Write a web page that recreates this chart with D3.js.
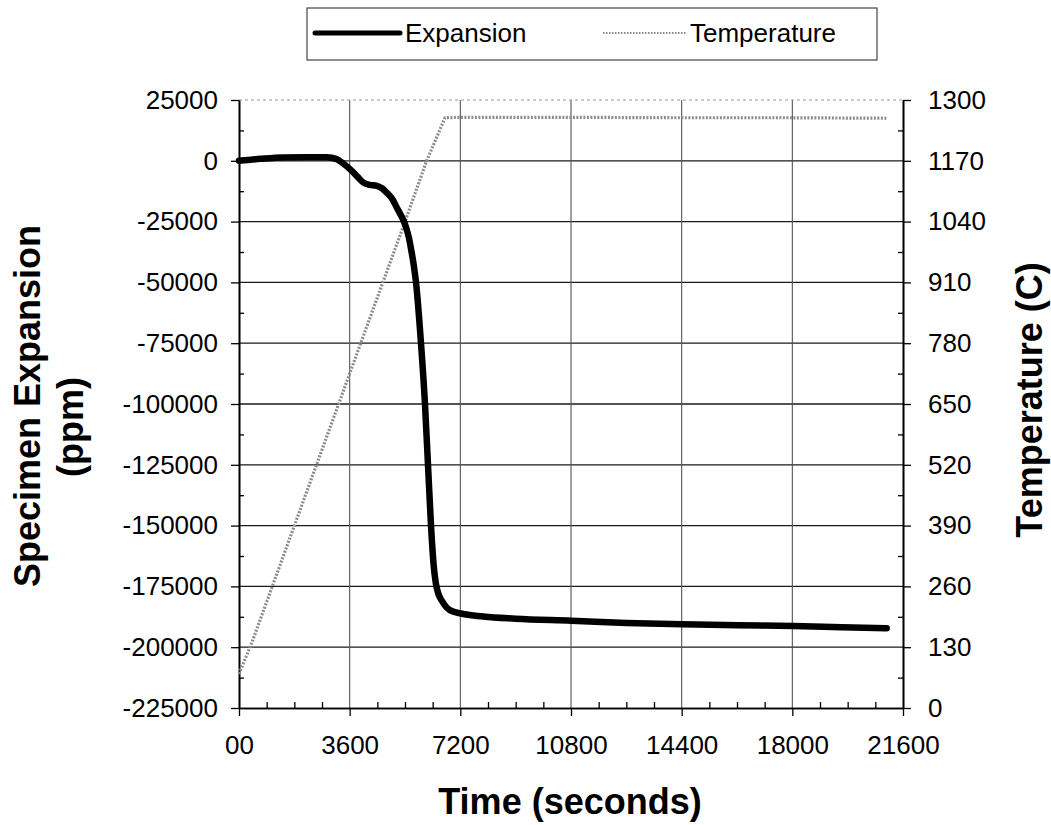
<!DOCTYPE html>
<html>
<head>
<meta charset="utf-8">
<script src="https://cdn.jsdelivr.net/npm/d3@7"></script>
<style>
  html, body { margin: 0; padding: 0; background: #fff; }
  svg { display: block; }
  text { font-family: "Liberation Sans", Arial, sans-serif; fill: #000; }
</style>
</head>
<body>
<svg id="chart" width="1051" height="825"></svg>
<script>
// ---- data ----
const expTime  = [0, 700, 1430, 2200, 2850, 3180, 3400, 3610, 3850, 4040, 4250, 4480, 4650, 4800, 5000, 5130, 5250, 5350, 5450, 5530, 5600, 5680, 5758, 5920, 6050, 6148, 6246, 6330, 6400, 6480, 6594, 6750, 6970, 7950, 9000, 10820, 12600, 14420, 16200, 18030, 19600, 21070];
const expValue = [0, 800, 1400, 1500, 1500, 700, -1200, -3400, -6500, -8900, -9900, -10300, -11300, -13000, -16000, -19200, -22000, -24500, -28000, -31800, -36500, -42500, -50000, -75000, -100000, -125000, -150000, -166000, -173500, -177800, -180800, -183600, -185400, -187400, -188300, -189100, -190000, -190600, -191000, -191300, -191800, -192200];
const tempTime  = [0, 420, 3600, 5400, 6105, 6700, 7200, 10800, 14400, 18000, 21070];
const tempValue = [73, 140, 715, 1040, 1170, 1262, 1263, 1263, 1262, 1262, 1261];

const xTicks = [0, 3600, 7200, 10800, 14400, 18000, 21600];
const xTickLabels = ["00", "3600", "7200", "10800", "14400", "18000", "21600"];
const yLeftTicks = [25000, 0, -25000, -50000, -75000, -100000, -125000, -150000, -175000, -200000, -225000];
const yRightTicks = [0, 130, 260, 390, 520, 650, 780, 910, 1040, 1170, 1300];

const seriesNames = ["Expansion", "Temperature"];
const xTitle = "Time (seconds)";
const yLeftTitle = ["Specimen Expansion", "(ppm)"];
const yRightTitle = "Temperature (C)";

// ---- layout ----
const L = 239, R = 903, T = 100, B = 708;
const svg = d3.select("#chart");

const x = d3.scaleLinear().domain([0, 21600]).range([L, R]);
const yL = d3.scaleLinear().domain([-225000, 25000]).range([B, T]);
const yR = d3.scaleLinear().domain([0, 1300]).range([B, T]);

// gridlines
const grid = svg.append("g");
grid.selectAll("line.h").data(yLeftTicks.filter(v => v !== 25000 && v !== -225000)).join("line")
  .attr("x1", L).attr("x2", R).attr("y1", d => yL(d)).attr("y2", d => yL(d))
  .attr("stroke", "#1a1a1a").attr("stroke-width", 1.3);
grid.selectAll("line.v").data(xTicks.filter(v => v !== 0 && v !== 21600)).join("line")
  .attr("x1", d => x(d)).attr("x2", d => x(d)).attr("y1", T).attr("y2", B)
  .attr("stroke", "#555").attr("stroke-width", 1.1);
// top border (dotted)
grid.append("line").attr("x1", L).attr("x2", R).attr("y1", T).attr("y2", T)
  .attr("stroke", "#999").attr("stroke-width", 1.2).attr("stroke-dasharray", "3,3");

// axes
function styleAxis(g) {
  g.select(".domain").attr("stroke", "#000").attr("stroke-width", 1.6);
  g.selectAll(".tick line").attr("stroke", "#000").attr("stroke-width", 1.3);
  g.selectAll(".tick text").style("font-size", "26px").attr("fill", "#000");
}
const minorLeft = d3.range(-212500, 25000, 25000);
const minorRight = d3.range(65, 1300, 130);
const minorX = d3.range(0, 21601, 900).filter(v => v % 3600 !== 0);
const plain = d => String(d);

svg.append("g").attr("transform", `translate(${L},0)`)
  .call(d3.axisLeft(yL).tickValues(yLeftTicks).tickSize(8).tickSizeOuter(0).tickPadding(13).tickFormat(plain))
  .call(styleAxis);
svg.append("g").attr("transform", `translate(${L},0)`)
  .call(d3.axisLeft(yL).tickValues(minorLeft).tickSize(-5).tickSizeOuter(0).tickFormat(""))
  .call(styleAxis);

svg.append("g").attr("transform", `translate(${R},0)`)
  .call(d3.axisRight(yR).tickValues(yRightTicks).tickSize(8).tickSizeOuter(0).tickPadding(17).tickFormat(plain))
  .call(styleAxis);
svg.append("g").attr("transform", `translate(${R},0)`)
  .call(d3.axisRight(yR).tickValues(minorRight).tickSize(-5).tickSizeOuter(0).tickFormat(""))
  .call(styleAxis);

svg.append("g").attr("transform", `translate(0,${B})`)
  .call(d3.axisBottom(x).tickValues(xTicks).tickSize(8).tickSizeOuter(0).tickPadding(20)
    .tickFormat((d, i) => xTickLabels[i]))
  .call(styleAxis);
svg.append("g").attr("transform", `translate(0,${B})`)
  .call(d3.axisBottom(x).tickValues(minorX).tickSize(-6).tickSizeOuter(0).tickFormat(""))
  .call(styleAxis);

// series
const expData = expTime.map((t, i) => [t, expValue[i]]);
const tempData = tempTime.map((t, i) => [t, tempValue[i]]);

svg.append("path").datum(tempData)
  .attr("fill", "none").attr("stroke", "#8c8c8c").attr("stroke-width", 3.2)
  .attr("stroke-dasharray", "2,1.5")
  .attr("d", d3.line().x(d => x(d[0])).y(d => yR(d[1])));

svg.append("path").datum(expData)
  .attr("fill", "none").attr("stroke", "#000").attr("stroke-width", 6.5)
  .attr("stroke-linejoin", "round").attr("stroke-linecap", "round")
  .attr("d", d3.line().curve(d3.curveMonotoneX).x(d => x(d[0])).y(d => yL(d[1])));

// titles
svg.append("text").attr("x", 570).attr("y", 814).attr("text-anchor", "middle")
  .style("font-size", "36px").style("font-weight", "bold").text(xTitle);

svg.append("text").attr("transform", `translate(40,406) rotate(-90)`).attr("text-anchor", "middle")
  .style("font-size", "36px").style("font-weight", "bold").text(yLeftTitle[0]);
svg.append("text").attr("transform", `translate(83,427) rotate(-90)`).attr("text-anchor", "middle")
  .style("font-size", "36px").style("font-weight", "bold").text(yLeftTitle[1]);

svg.append("text").attr("transform", `translate(1042,400) rotate(-90)`).attr("text-anchor", "middle")
  .style("font-size", "36px").style("font-weight", "bold").text(yRightTitle);

// legend
const lg = svg.append("g");
lg.append("rect").attr("x", 307).attr("y", 8).attr("width", 570).attr("height", 52)
  .attr("fill", "#fff").attr("stroke", "#444").attr("stroke-width", 1.2);
lg.append("line").attr("x1", 315).attr("x2", 400).attr("y1", 33).attr("y2", 33)
  .attr("stroke", "#000").attr("stroke-width", 5).attr("stroke-linecap", "round");
lg.append("text").attr("x", 405).attr("y", 42).style("font-size", "26px").text(seriesNames[0]);
lg.append("line").attr("x1", 603).attr("x2", 686).attr("y1", 33).attr("y2", 33)
  .attr("stroke", "#8c8c8c").attr("stroke-width", 2).attr("stroke-dasharray", "1.5,1.5");
lg.append("text").attr("x", 690).attr("y", 42).style("font-size", "26px").text(seriesNames[1]);
</script>
</body>
</html>
